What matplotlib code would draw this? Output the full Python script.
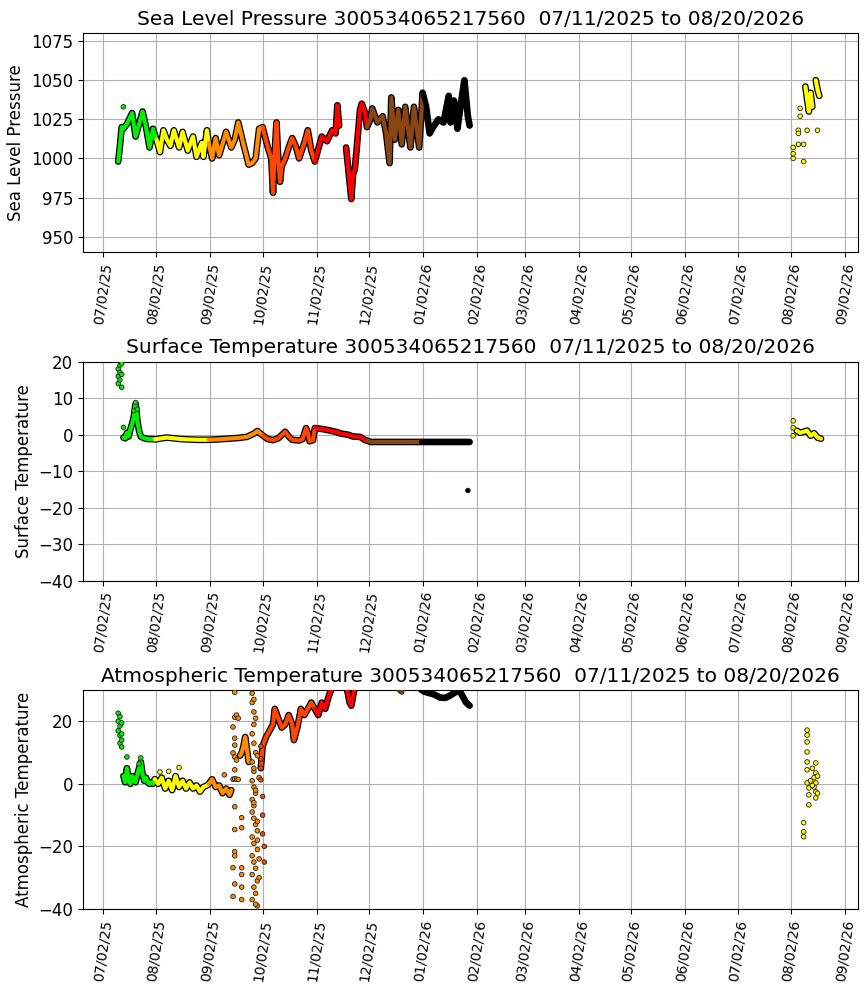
import numpy as np
import pandas as pd
import matplotlib
matplotlib.use("Agg")
import matplotlib.pyplot as plt
import matplotlib.dates as mdates

nan = np.nan
imei = "300534065217560"
first_day = "2025-07-11"
last_day = "2026-08-20"

# colour per calendar month of the fix
month_colors = {7: "#00ee00", 8: "#ffff00", 9: "#ff8c00", 10: "#ff4500",
                11: "#ff0000", 12: "#8b4513", 1: "#000000"}

# ---- sea level pressure (hPa) ----
slp_track_dates = [
    "2025-07-11", "2025-07-12", "2025-07-13", "2025-07-14", "2025-07-16", "2025-07-19", "2025-07-21",
    "2025-07-23", "2025-07-25", "2025-07-27", "2025-07-29", "2025-07-31", "2025-08-02", "2025-08-04",
    "2025-08-06", "2025-08-08", "2025-08-10", "2025-08-12", "2025-08-15", "2025-08-17", "2025-08-20",
    "2025-08-23", "2025-08-25", "2025-08-28", "2025-08-29", "2025-08-31", "2025-09-01", "2025-09-03",
    "2025-09-05", "2025-09-07", "2025-09-10", "2025-09-11", "2025-09-14", "2025-09-16", "2025-09-18",
    "2025-09-21", "2025-09-24", "2025-09-26", "2025-09-28", "2025-09-30", "2025-10-02", "2025-10-05",
    "2025-10-07", "2025-10-08", "2025-10-09", "2025-10-10", "2025-10-11", "2025-10-12", "2025-10-13",
    "2025-10-15", "2025-10-17", "2025-10-19", "2025-10-21", "2025-10-23", "2025-10-26", "2025-10-28",
    "2025-10-30", "2025-11-01", "2025-11-03", "2025-11-05", "2025-11-08", "2025-11-11", "2025-11-13",
    "2025-11-14", "2025-11-15", "2025-11-17", "2025-11-19", "2025-11-21", "2025-11-22", "2025-11-23",
    "2025-11-24", "2025-11-25", "2025-11-27", "2025-11-28", "2025-11-30", "2025-12-01", "2025-12-03",
    "2025-12-04", "2025-12-07", "2025-12-10", "2025-12-12", "2025-12-14", "2025-12-15", "2025-12-17",
    "2025-12-19", "2025-12-21", "2025-12-23", "2025-12-26", "2025-12-28", "2025-12-31", "2026-01-02",
    "2026-01-04", "2026-01-06", "2026-01-08", "2026-01-11", "2026-01-14", "2026-01-17", "2026-01-18",
    "2026-01-20", "2026-01-22", "2026-01-24", "2026-01-26", "2026-01-28", "2026-01-29",
    "2026-08-10", "2026-08-11", "2026-08-12", "2026-08-13", "2026-08-14", "2026-08-15",
    "2026-08-16", "2026-08-17", "2026-08-18",
]
slp_track = [
    998, 1008, 1020, 1019, 1022, 1029, 1014,
    1022, 1030, 1020, 1007, 1019, 1012, 1004,
    1018, 1012, 1008, 1018, 1007, 1017, 1005,
    1014, 1001, 1010, 1001, 1018, 1010, 1000,
    1013, 1002, 1013, 1017, 1007, 1012, 1023,
    1009, 996, 997, 1000, 1019, 1020, 1007,
    1000, 978, 1005, 1023, 1000, 985, 995,
    1000, 1007, 1013, 1008, 1000, 1010, 1018,
    1005, 998, 1006, 1014, 1011, 1018, 1016,
    1034, 1021, nan, 1007, 985, 974, 990,
    993, 1005, 1031, 1035, 1029, 1020, 1025,
    1032, 1023, 1027, 1016, 997, 1039, 1012,
    1031, 1009, 1033, 1007, 1033, 1007, 1042,
    1033, 1016, 1020, 1025, 1023, 1040, 1023,
    1037, 1019, 1035, 1050, 1027, 1021,
    1046, 1038, 1030, 1042, 1033, nan,
    1050, 1044, 1040,
]
slp_spot_dates = ["2025-07-14", "2026-08-03", "2026-08-03", "2026-08-03", "2026-08-06", "2026-08-06",
                  "2026-08-06", "2026-08-07", "2026-08-07", "2026-08-09", "2026-08-09", "2026-08-11",
                  "2026-08-17"]
slp_spots = [1033, 1000, 1003, 1007, 1018, 1016, 1009, 1032, 1027, 1009, 998, 1018, 1018]

# ---- surface temperature (C) ----
sst_track_dates = [
    "2025-07-14", "2025-07-15", "2025-07-16", "2025-07-17", "2025-07-18", "2025-07-19", "2025-07-20",
    "2025-07-21", "2025-07-22", "2025-07-23", "2025-07-24", "2025-07-26", "2025-07-28", "2025-07-31",
    "2025-08-01", "2025-08-05", "2025-08-08", "2025-08-12", "2025-08-16", "2025-08-20", "2025-08-25",
    "2025-08-31", "2025-09-01", "2025-09-06", "2025-09-12", "2025-09-18", "2025-09-23", "2025-09-27",
    "2025-09-29", "2025-09-30", "2025-10-02", "2025-10-05", "2025-10-08", "2025-10-11", "2025-10-15",
    "2025-10-17", "2025-10-19", "2025-10-23", "2025-10-25", "2025-10-27", "2025-10-28", "2025-10-29",
    "2025-10-31", "2025-11-01", "2025-11-06", "2025-11-09", "2025-11-13", "2025-11-16", "2025-11-20",
    "2025-11-23", "2025-11-27", "2025-11-30", "2025-12-01", "2025-12-03", "2025-12-06", "2025-12-10",
    "2025-12-15", "2025-12-20", "2025-12-25", "2025-12-31", "2026-01-01", "2026-01-05", "2026-01-10",
    "2026-01-15", "2026-01-20", "2026-01-25", "2026-01-29",
    "2026-08-05", "2026-08-07", "2026-08-09", "2026-08-11", "2026-08-13", "2026-08-15", "2026-08-17",
    "2026-08-19",
]
sst_track = [
    -0.8, -1.0, 0.5, -0.5, 1.5, 3.0, 5.0,
    8.5, 4.0, 1.0, -0.5, -1.0, -1.2, -1.2,
    -1.3, -1.0, -0.8, -1.0, -1.2, -1.3, -1.4,
    -1.4, -1.4, -1.3, -1.1, -0.9, -0.6, 0.3,
    1.0, 0.6, -0.2, -1.2, -1.5, -1.0, 0.8,
    -0.5, -1.4, -1.6, -1.2, 1.8, 0.5, -1.8,
    -1.5, 1.8, 1.5, 1.2, 0.8, 0.3, 0.0,
    -0.5, -0.6, -1.5, -1.6, -2.0, -2.0, -2.0,
    -2.0, -2.0, -2.0, -2.0, -2.0, -2.0, -2.0,
    -2.0, -2.0, -2.0, -2.0,
    1.1, 0.5, 0.8, 1.1, -0.3, 0.4, -0.8,
    -1.1,
]
sst_spot_dates = ["2025-07-11", "2025-07-11", "2025-07-11", "2025-07-12", "2025-07-12", "2025-07-12",
                  "2025-07-12", "2025-07-13", "2025-07-13", "2025-07-13", "2025-07-14", "2025-07-20",
                  "2025-07-21", "2025-07-22", "2026-01-28", "2026-08-03", "2026-08-03", "2026-08-03"]
sst_spots = [14.0, 16.0, 18.0, 20.5, 17.0, 15.0, 19.0, 19.5, 16.5, 13.0, 2.0, 6.6,
             8.8, 7.0, -15.3, 3.8, 1.9, -0.3]

# ---- atmospheric temperature (C) ----
air_track_dates = [
    "2025-07-14", "2025-07-15", "2025-07-16", "2025-07-17", "2025-07-18", "2025-07-19", "2025-07-20",
    "2025-07-21", "2025-07-22", "2025-07-23", "2025-07-24", "2025-07-25", "2025-07-26", "2025-07-27",
    "2025-07-28", "2025-07-29", "2025-07-30", "2025-07-31", "2025-08-01", "2025-08-03", "2025-08-05",
    "2025-08-07", "2025-08-09", "2025-08-11", "2025-08-13", "2025-08-15", "2025-08-17", "2025-08-19",
    "2025-08-21", "2025-08-23", "2025-08-25", "2025-08-27", "2025-08-29", "2025-08-31", "2025-09-01",
    "2025-09-03", "2025-09-05", "2025-09-07", "2025-09-09", "2025-09-11", "2025-09-13", "2025-09-14",
    "2025-09-16", "2025-09-19", "2025-09-20", "2025-09-21", "2025-09-22", "2025-09-23", "2025-09-24",
    "2025-10-01", "2025-10-02", "2025-10-04", "2025-10-06", "2025-10-08", "2025-10-09", "2025-10-11",
    "2025-10-13", "2025-10-15", "2025-10-17", "2025-10-19", "2025-10-20", "2025-10-22", "2025-10-24",
    "2025-10-26", "2025-10-28", "2025-10-30", "2025-10-31", "2025-11-01", "2025-11-03", "2025-11-05",
    "2025-11-07", "2025-11-09", "2025-11-11", "2025-11-19", "2025-11-20", "2025-11-21", "2025-11-22",
    "2025-11-23", "2025-11-24", "2026-01-01", "2026-01-03", "2026-01-06", "2026-01-09", "2026-01-12",
    "2026-01-15", "2026-01-17", "2026-01-20", "2026-01-23", "2026-01-25", "2026-01-27", "2026-01-29",
]
air_track = [
    2.5, 0.5, 5.0, 1.5, 0.0, 2.5, 1.0,
    0.5, 3.0, 5.0, 7.0, 3.0, 1.0, 2.0,
    0.5, 0.0, 0.5, 0.0, 1.5, 0.0, 2.0,
    -1.5, 1.0, -2.0, 2.5, -1.0, 1.0, -1.5,
    0.5, -1.5, -0.5, -2.5, -1.0, -0.5, 0.0,
    1.5, -1.0, -0.5, -3.0, -1.5, -3.5, -2.0,
    nan, 9.0, 10.0, 12.0, 15.0, 11.0, 7.0,
    5.0, 12.0, 15.0, 17.0, 19.0, 24.0, 21.0,
    18.0, 19.0, 22.0, 19.0, 14.0, 18.0, 24.0,
    22.0, 24.0, 26.0, 25.0, 24.0, 22.0, 26.0,
    24.0, 28.0, 31.0, 31.0, 29.0, 26.0, 25.0,
    28.0, 31.0, 30.2, 29.5, 29.0, 28.5, 27.6,
    27.5, 28.0, 29.0, 30.0, 28.0, 26.0, 25.0,
]
air_spot_dates = [
    "2025-07-11", "2025-07-11", "2025-07-11", "2025-07-12", "2025-07-12", "2025-07-12", "2025-07-12",
    "2025-07-13", "2025-07-13", "2025-07-13", "2025-07-13", "2025-07-16", "2025-07-23", "2025-07-24",
    "2025-08-04", "2025-08-09", "2025-08-15", "2025-09-10",
    "2025-09-15", "2025-09-16", "2025-09-17", "2025-09-18",
    "2025-09-16", "2025-09-16", "2025-09-17", "2025-09-18", "2025-09-15", "2025-09-16", "2025-09-16",
    "2025-09-15", "2025-09-16", "2025-09-17", "2025-09-16", "2025-09-20", "2025-09-16", "2025-09-20",
    "2025-09-16", "2025-09-16", "2025-09-16", "2025-09-20", "2025-09-15", "2025-09-20", "2025-09-20",
    "2025-09-20", "2025-09-16", "2025-09-15",
    "2025-09-26", "2025-09-26", "2025-09-27", "2025-09-27", "2025-09-26", "2025-09-27", "2025-09-28",
    "2025-09-26", "2025-09-27", "2025-09-26", "2025-09-27", "2025-09-28", "2025-09-26", "2025-09-27",
    "2025-09-26", "2025-09-27", "2025-09-28", "2025-09-29", "2025-09-26", "2025-09-27", "2025-09-29",
    "2025-09-26", "2025-09-27", "2025-09-28", "2025-09-26", "2025-09-29", "2025-09-27", "2025-09-28",
    "2025-09-26", "2025-09-29", "2025-09-27", "2025-09-28", "2025-09-29", "2025-09-30", "2025-09-27",
    "2025-09-29", "2025-09-30", "2025-09-27", "2025-09-28", "2025-09-29", "2025-09-30", "2025-09-28",
    "2025-10-01", "2025-10-01", "2025-10-01", "2025-10-01", "2025-10-02", "2025-10-02", "2025-10-02",
    "2025-10-03", "2025-10-03",
    "2025-12-20", "2025-12-21",
    "2026-08-09", "2026-08-09", "2026-08-09", "2026-08-11", "2026-08-11", "2026-08-11", "2026-08-11",
    "2026-08-11", "2026-08-11", "2026-08-11", "2026-08-12", "2026-08-12", "2026-08-16", "2026-08-16",
    "2026-08-16", "2026-08-16", "2026-08-16", "2026-08-15", "2026-08-15", "2026-08-12", "2026-08-13",
    "2026-08-14", "2026-08-14", "2026-08-17", "2026-08-17",
]
air_spots = [
    22.6, 20.0, 17.0, 21.5, 18.5, 15.5, 13.0,
    19.5, 16.0, 14.0, 11.8, 8.6, 6.4, 8.3,
    3.8, 4.0, 5.2, 2.9,
    1.5, 1.6, 1.5, 1.4,
    29.3, 21.3, 22.0, 21.0, 18.2, 14.6, 12.4,
    9.9, 8.6, 7.6, 4.5, -10.8, -7.3, -14.0,
    -14.6, -21.7, -23.0, -26.8, -26.8, -29.0, -33.0,
    -37.0, -32.0, -36.0,
    29.0, 26.0, 23.0, 19.0, 16.0, 13.0, 10.0,
    7.0, 4.0, 1.0, -1.0, -3.0, -5.0, -7.0,
    -9.0, -11.0, -13.0, -15.0, -17.0, -19.0, -21.0,
    -23.0, -25.0, -27.0, -29.0, -31.0, -33.0, -35.0,
    -37.0, -39.0, 27.0, 21.0, 9.0, 2.0, -6.0,
    -18.0, -24.0, 5.0, -2.0, -12.0, -30.0, -38.5,
    12.0, 8.0, 5.0, 1.3, -4.0, -10.0, -16.0,
    -20.0, -25.0,
    29.8, 29.4,
    -12.4, -15.3, -16.9, 17.2, 15.6, 13.4, 10.2,
    7.0, 4.5, 0.3, -1.3, -3.5, 6.7, 3.5,
    0.3, -2.5, -4.5, 2.0, -1.0, -6.7, 1.0,
    5.0, -0.5, 2.5, -3.0,
]

MAX_GAP_DAYS = 6.5


def point_colors(dates):
    return [month_colors[d.month] for d in dates]


def draw_track(ax, dates, values):
    d = pd.to_datetime(dates)
    x = mdates.date2num(d)
    v = np.array(values, dtype=float)
    months = np.array([t.month for t in d])
    # split into pieces wherever the buoy stopped reporting for a while
    cuts = np.where(np.diff(x) > MAX_GAP_DAYS)[0] + 1
    for idx in np.split(np.arange(len(x)), cuts):
        px, pv, pm = x[idx], v[idx], months[idx]
        ax.plot(px, pv, color="k", lw=4.8, solid_capstyle="round", zorder=2)
        start = 0
        for i in range(1, len(px) + 1):
            if i == len(px) or pm[i] != pm[start]:
                stop = min(i + 1, len(px))
                ax.plot(px[start:stop], pv[start:stop], color=month_colors[pm[start]],
                        lw=3.0, solid_capstyle="round", zorder=3)
                start = i


def draw_spots(ax, dates, values):
    d = pd.to_datetime(dates)
    ax.scatter(mdates.date2num(d), values, s=11, c=point_colors(d), edgecolors="#222222",
               linewidths=0.6, zorder=4)


fig, axes = plt.subplots(3, 1, figsize=(8.67, 9.92), dpi=100)
fig.subplots_adjust(left=0.0957, right=0.9896, top=0.9664, bottom=0.0837, hspace=0.5)

t0 = pd.Timestamp(first_day)
t1 = pd.Timestamp(last_day)
pad = (t1 - t0) * 0.05
span = f"{imei}  {t0:%m/%d/%Y} to {t1:%m/%d/%Y}"

panels = [
    ("Sea Level Pressure", slp_track_dates, slp_track, slp_spot_dates, slp_spots, (940, 1080)),
    ("Surface Temperature", sst_track_dates, sst_track, sst_spot_dates, sst_spots, (-40, 20)),
    ("Atmospheric Temperature", air_track_dates, air_track, air_spot_dates, air_spots, (-40, 30)),
]

for ax, (name, td, tv, sd, sv, ylim) in zip(axes, panels):
    draw_track(ax, td, tv)
    draw_spots(ax, sd, sv)
    ax.set_xlim(mdates.date2num(t0 - pad), mdates.date2num(t1 + pad))
    ax.set_ylim(*ylim)
    ax.set_title(f"{name} {span}", fontsize=14.5)
    ax.set_ylabel(name, fontsize=12)
    ax.grid(True, zorder=0)
    ax.set_axisbelow(True)
    ax.xaxis.set_major_locator(mdates.MonthLocator(bymonthday=2))
    ax.xaxis.set_major_formatter(mdates.DateFormatter("%m/%d/%y"))
    ax.tick_params(axis="x", labelsize=10, labelrotation=82)
    ax.tick_params(axis="y", labelsize=12)

fig.savefig("out.png", dpi=100)
